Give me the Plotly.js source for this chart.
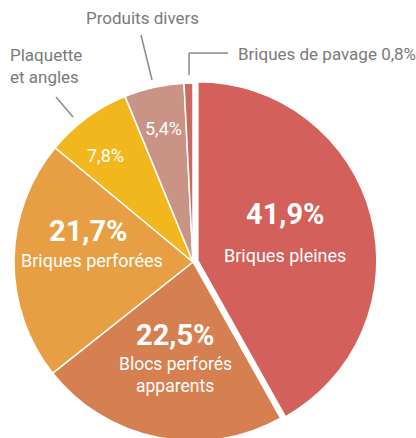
<!DOCTYPE html>
<html>
<head>
<meta charset="utf-8">
<script src="https://cdn.plot.ly/plotly-3.0.1.min.js"></script>
<style>
html,body{margin:0;padding:0;overflow:hidden;background:#fff;}
#chart{width:416px;height:450px;}
</style>
</head>
<body>
<div id="chart"></div>
<script>
var labels = ["Briques pleines", "Blocs perforés apparents", "Briques perforées", "Plaquette et angles", "Produits divers", "Briques de pavage"];
var values = [41.9, 22.5, 21.7, 7.8, 5.4, 0.8];
var pctText = ["41,9%", "22,5%", "21,7%", "7,8%", "5,4%", "0,8%"];
var colors = ["#D3605B", "#D67F50", "#E89E42", "#F3B71E", "#C99486", "#CD6A60"];
var pulls = [0.028, 0, 0, 0, 0, 0];

var W = 416, H = 450;
function px(x){ return x / W; }
function py(y){ return 1 - y / H; }

var FONT = "Roboto, 'DejaVu Sans', sans-serif";
var GRAY = "#7a7a7a";

var trace = {
  type: "pie",
  labels: labels,
  values: values,
  sort: false,
  direction: "clockwise",
  rotation: 0,
  pull: pulls,
  marker: {colors: colors, line: {color: "#ffffff", width: 1.5}},
  textinfo: "none",
  hoverinfo: "label+percent",
  domain: {x: [px(9), px(377)], y: [py(446), py(78)]},
  showlegend: false
};

function ann(x, y, text, size, color, bold){
  return {
    xref: "paper", yref: "paper", x: px(x), y: py(y),
    xanchor: "center", yanchor: "middle", showarrow: false,
    text: bold ? "<b>" + text + "</b>" : text,
    font: {family: FONT, size: size, color: color}
  };
}

var annotations = [
  ann(285, 214, pctText[0], 29, "#ffffff", true),
  ann(285, 255, labels[0], 18, "#ffffff", false),
  ann(175, 335, pctText[1], 29, "#ffffff", true),
  ann(175, 364, "Blocs perforés", 17.5, "#ffffff", false),
  ann(175, 386, "apparents", 17.5, "#ffffff", false),
  ann(88, 231, pctText[2], 29, "#ffffff", true),
  ann(92, 260, labels[2], 18, "#ffffff", false),
  ann(105, 155, pctText[3], 18, "#ffffff", false),
  ann(163, 128, pctText[4], 18, "#ffffff", false),
  ann(142, 18, labels[4], 17, GRAY, false),
  {xref: "paper", yref: "paper", x: px(8), y: py(66), xanchor: "left", yanchor: "middle", showarrow: false, align: "left",
   text: "Plaquette<br>et angles", font: {family: FONT, size: 17, color: GRAY}},
  {xref: "paper", yref: "paper", x: px(236), y: py(54), xanchor: "left", yanchor: "middle", showarrow: false,
   text: labels[5] + " " + pctText[5], font: {family: FONT, size: 17, color: GRAY}}
];

var lineStyle = {color: "#8a8a8a", width: 1.5};
var shapes = [
  {type: "line", xref: "paper", yref: "paper", x0: px(141), y0: py(35), x1: px(152), y1: py(80), line: lineStyle},
  {type: "line", xref: "paper", yref: "paper", x0: px(56), y0: py(97), x1: px(73), y1: py(117), line: lineStyle},
  {type: "line", xref: "paper", yref: "paper", x0: px(189), y0: py(75), x1: px(189), y1: py(53), line: lineStyle},
  {type: "line", xref: "paper", yref: "paper", x0: px(189), y0: py(53), x1: px(228), y1: py(53), line: lineStyle}
];

var layout = {
  width: W, height: H,
  margin: {l: 0, r: 0, t: 0, b: 0},
  paper_bgcolor: "#ffffff",
  annotations: annotations,
  shapes: shapes,
  showlegend: false
};

Plotly.newPlot("chart", [trace], layout, {displayModeBar: false, staticPlot: true});
</script>
</body>
</html>
